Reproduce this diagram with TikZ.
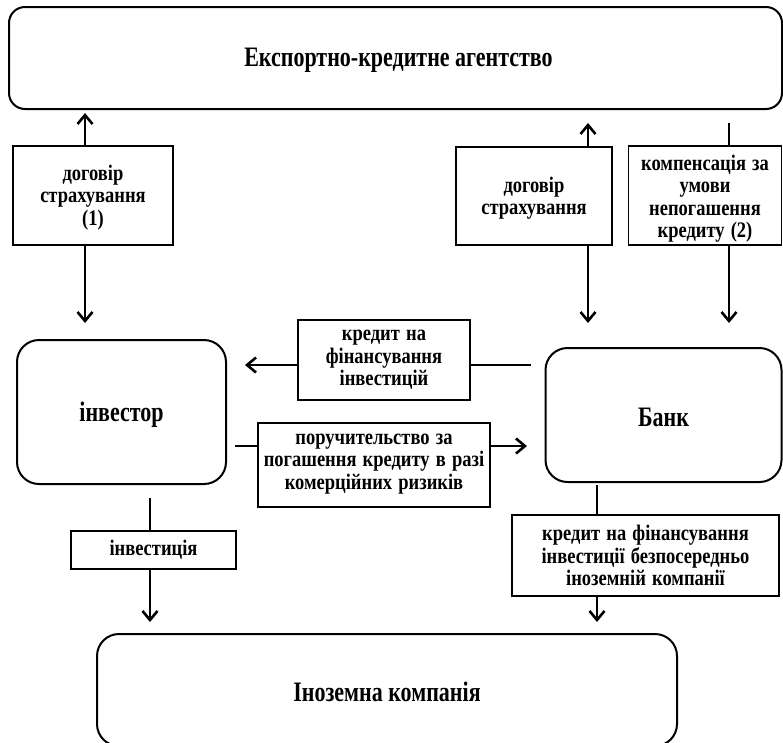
\documentclass[tikz,border=0pt]{standalone}
\usepackage{fontspec}
\setmainfont{Liberation Serif}
\usetikzlibrary{arrows.meta,calc}
\begin{document}
\begin{tikzpicture}[x=1pt,y=-1pt,
  rbox/.style={draw, line width=2pt, rounded corners=22pt, inner sep=0pt},
  lbox/.style={draw, line width=1.8pt, inner sep=0pt},
  bigtxt/.style={transform shape, yscale=1.28, inner sep=0pt, align=center,
    font=\fontsize{22}{24}\selectfont\bfseries},
  smalltxt/.style={transform shape, yscale=1.2, inner sep=0pt, text width=300pt, align=center,
    font=\fontsize{18.5}{18.7}\selectfont\bfseries},
  ln/.style={line width=2.6pt},
  arr/.style={line width=2.6pt, -{Straight Barb[length=9pt,width=15pt]}}
]
\path[use as bounding box, fill=white] (0,0) rectangle (783,742);

% main boxes
\node[rbox, rounded corners=16pt, minimum width=773pt, minimum height=102pt] (eca) at (395.5,58) {};
\node[rbox, minimum width=209pt, minimum height=144pt] (inv) at (121.5,412) {};
\node[rbox, minimum width=236pt, minimum height=134pt] (bank) at (663.5,415) {};
\node[rbox, minimum width=580pt, minimum height=112pt] (fc) at (387,690) {};

\node[bigtxt] (ecat) at ($(eca.center)+(3,2)$) {Експортно-кредитне агентство};
\node[bigtxt] (invt) at ($(inv.center)+(0,3)$) {інвестор};
\node[bigtxt] (bankt) at ($(bank.center)+(0,2)$) {Банк};
\node[bigtxt] (fct) at ($(fc.center)+(0,2)$) {Іноземна компанія};

% label boxes
\node[lbox, minimum width=160pt, minimum height=99pt] (b1) at (93,195.5) {};
\node[lbox, minimum width=156pt, minimum height=98pt] (b2) at (534,196) {};
\node[lbox, minimum width=153pt, minimum height=99pt] (b3) at (705,195.5) {};
\node[lbox, minimum width=172pt, minimum height=80pt] (cr) at (384,360) {};
\node[lbox, minimum width=232pt, minimum height=84pt] (gu) at (374,465) {};
\node[lbox, minimum width=165pt, minimum height=38pt] (iv) at (153.5,550) {};
\node[lbox, minimum width=267pt, minimum height=81pt] (bc) at (645.5,555.5) {};

\node[smalltxt] (b1t) at ($(b1.center)+(0,2)$) {договір\\страхування\\(1)};
\node[smalltxt] (b2t) at ($(b2.center)+(0,2)$) {договір\\страхування};
\node[smalltxt] (b3t) at ($(b3.center)+(0,3)$) {компенсація за\\умови\\непогашення\\кредиту (2)};
\node[smalltxt] (crt) at (cr.center) {кредит на\\фінансування\\інвестицій};
\node[smalltxt] (gut) at ($(gu.center)+(0,-1)$) {поручительство за\\погашення кредиту в разі\\комерційних ризиків};
\node[smalltxt] (ivt) at (iv.center) {інвестиція};
\node[smalltxt] (bct) at (bc.center) {кредит на фінансування\\інвестиції безпосередньо\\іноземній компанії};

% connector end points
\coordinate (t1) at (85,113);
\coordinate (t2) at (85,323);
\coordinate (t3) at (588,123);
\coordinate (t4) at (588,323);
\coordinate (s5) at (729,123);
\coordinate (t6) at (729,323);
\coordinate (s7) at (531,365);
\coordinate (t7) at (245,365);
\coordinate (s8) at (235,446);
\coordinate (t8) at (527,446);
\coordinate (s9) at (150,498);
\coordinate (t9) at (150,622);
\coordinate (s10) at (597,485);
\coordinate (t10) at (597,622);

% connectors
\draw[arr] (b1.north -| t1) -- (t1);
\draw[arr] (b1.south -| t1) -- (t2);
\draw[arr] (b2.north -| t3) -- (t3);
\draw[arr] (b2.south -| t3) -- (t4);
\draw[ln] (s5) -- (b3.north -| s5);
\draw[arr] (b3.south -| s5) -- (t6);
\draw[ln] (s7) -- (s7 -| cr.east);
\draw[arr] (s7 -| cr.west) -- (t7);
\draw[ln] (s8) -- (s8 -| gu.west);
\draw[arr] (s8 -| gu.east) -- (t8);
\draw[ln] (s9) -- (s9 |- iv.north);
\draw[arr] (s9 |- iv.south) -- (t9);
\draw[ln] (s10) -- (s10 |- bc.north);
\draw[arr] (s10 |- bc.south) -- (t10);
\end{tikzpicture}
\end{document}
